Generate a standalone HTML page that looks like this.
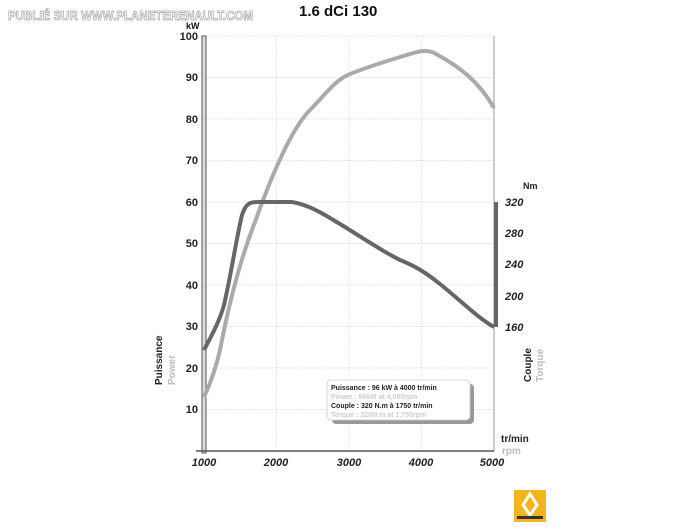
<!DOCTYPE html>
<html><head><meta charset="utf-8"><style>
body{margin:0;background:#fff;width:700px;height:525px;overflow:hidden;font-family:"Liberation Sans",sans-serif}
</style></head><body>
<svg width="700" height="525" xmlns="http://www.w3.org/2000/svg" font-family="Liberation Sans, sans-serif">
<rect width="700" height="525" fill="#fff"/>
<text x="8" y="20" font-size="13" fill="#fff" stroke="#aaa" stroke-width="0.8" font-family="Liberation Sans Narrow, Liberation Sans, sans-serif" font-weight="bold" textLength="245" lengthAdjust="spacingAndGlyphs">PUBLIÉ SUR  WWW.PLANETERENAULT.COM</text>
<text x="299" y="16" font-size="15" font-weight="bold" fill="#111">1.6 dCi 130</text>
<text x="186" y="29" font-size="9" font-weight="bold" fill="#111">kW</text>
<g stroke="#ddd" stroke-width="0.7" stroke-dasharray="2,1">
<line x1="206" y1="36" x2="494" y2="36"/><line x1="206" y1="77.5" x2="494" y2="77.5"/><line x1="206" y1="119" x2="494" y2="119"/><line x1="206" y1="160.5" x2="494" y2="160.5"/><line x1="206" y1="202" x2="494" y2="202"/><line x1="206" y1="243.5" x2="494" y2="243.5"/><line x1="206" y1="285" x2="494" y2="285"/><line x1="206" y1="326.5" x2="494" y2="326.5"/><line x1="206" y1="368" x2="494" y2="368"/><line x1="206" y1="409.5" x2="494" y2="409.5"/>
<line x1="276.5" y1="36" x2="276.5" y2="451"/><line x1="349" y1="36" x2="349" y2="451"/><line x1="421.5" y1="36" x2="421.5" y2="451"/>
</g>
<line x1="494" y1="36" x2="494" y2="451" stroke="#999" stroke-width="1"/>
<rect x="202" y="36" width="4" height="417" fill="#ddd" stroke="#555" stroke-width="1"/>
<line x1="196" y1="451" x2="494" y2="451" stroke="#555" stroke-width="1.5"/>
<g font-size="11" font-weight="bold" fill="#222" text-anchor="end">
<text x="198" y="40">100</text><text x="198" y="81">90</text><text x="198" y="123">80</text><text x="198" y="164">70</text><text x="198" y="206">60</text><text x="198" y="247">50</text><text x="198" y="289">40</text><text x="198" y="330">30</text><text x="198" y="372">20</text><text x="198" y="413">10</text>
</g>
<g font-size="11" font-weight="bold" font-style="italic" fill="#222" text-anchor="middle">
<text x="204" y="466">1000</text><text x="276" y="466">2000</text><text x="349" y="466">3000</text><text x="421" y="466">4000</text><text x="492" y="466">5000</text>
</g>
<text transform="translate(162,385) rotate(-90)" font-size="10" font-weight="bold" fill="#222">Puissance</text>
<text transform="translate(175,385) rotate(-90)" font-size="10" font-weight="bold" fill="#bbb">Power</text>
<rect x="494" y="202" width="4" height="125" fill="#666"/>
<g font-size="11" font-weight="bold" font-style="italic" fill="#222">
<text x="505" y="206">320</text><text x="505" y="237">280</text><text x="505" y="268">240</text><text x="505" y="300">200</text><text x="505" y="331">160</text>
</g>
<text x="523" y="189" font-size="9" font-weight="bold" fill="#222">Nm</text>
<text transform="translate(531,382) rotate(-90)" font-size="10" font-weight="bold" fill="#222">Couple</text>
<text transform="translate(543,382) rotate(-90)" font-size="10" font-weight="bold" fill="#bbb">Torque</text>
<text x="501" y="442" font-size="10" font-weight="bold" fill="#222">tr/min</text>
<text x="502" y="454" font-size="10" font-weight="bold" fill="#bbb">rpm</text>
<path d="M204,397 C212,380 218,362 222,340 C230,300 240,260 255,222 C270,180 290,130 310,110 C325,95 335,80 350,74 C370,66 390,60 410,54 C420,51 428,49 436,54 C458,66 478,80 494,108" fill="none" stroke="#aaa" stroke-width="4"/>
<path d="M204,350 C212,335 220,320 224,305 C232,270 236,240 242,215 C246,203 250,202 258,202 L292,202 C310,205 325,215 340,224 C360,236 380,250 400,260 C415,266 425,272 440,284 C460,300 478,318 494,327" fill="none" stroke="#666" stroke-width="4"/>
<rect x="332" y="384" width="142" height="40" rx="4" fill="#999"/>
<rect x="327" y="380" width="143" height="40" rx="4" fill="#fff" stroke="#ccc" stroke-width="0.8"/>
<g font-size="7" font-weight="bold">
<text x="331" y="390" fill="#222">Puissance : 96 kW à 4000 tr/min</text>
<text x="331" y="399" fill="#ccc">Power : 96kW at 4,000rpm</text>
<text x="331" y="408" fill="#222">Couple : 320 N.m à 1750 tr/min</text>
<text x="331" y="417" fill="#ccc">Torque : 320N.m at 1,750rpm</text>
</g>
<rect x="514" y="490" width="32" height="32" fill="#f2b51e"/>
<path d="M530,494 L537,505 L530,515 L523,505 Z" fill="none" stroke="#fff" stroke-width="3"/>
<rect x="517" y="516" width="26" height="3" fill="#333"/>
</svg>
</body></html>
